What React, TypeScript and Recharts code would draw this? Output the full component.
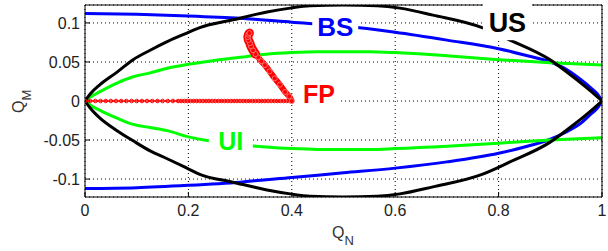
import { LineChart, Line, XAxis, YAxis, CartesianGrid, ReferenceDot } from "recharts";

// US curve (black)
const usX = [0, 0.01, 0.029, 0.062, 0.093, 0.126, 0.159, 0.197, 0.222, 0.286, 0.352, 0.397, 0.435, 0.5, 0.565, 0.609, 0.673, 0.768, 0.822, 0.899, 0.944, 0.983, 1];
const usUpper = [0, 0.009, 0.021, 0.037, 0.053, 0.065, 0.076, 0.087, 0.094, 0.104, 0.114, 0.119, 0.122, 0.123, 0.122, 0.119, 0.11, 0.094, 0.078, 0.053, 0.031, 0.01, 0];
const usLower = [0, -0.009, -0.022, -0.038, -0.051, -0.064, -0.074, -0.086, -0.094, -0.104, -0.114, -0.119, -0.122, -0.123, -0.122, -0.119, -0.11, -0.094, -0.078, -0.053, -0.031, -0.01, 0];

// BS curve (blue)
const bsX = [0, 0.1, 0.2, 0.3, 0.4, 0.5, 0.6, 0.7, 0.8, 0.85, 0.9, 0.93, 0.96, 0.98, 0.99, 1];
const bsUpper = [0.112, 0.111, 0.109, 0.106, 0.101, 0.096, 0.088, 0.078, 0.067, 0.059, 0.05, 0.041, 0.027, 0.016, 0.01, 0];
const bsLower = [-0.112, -0.111, -0.108, -0.104, -0.098, -0.092, -0.086, -0.078, -0.067, -0.059, -0.049, -0.04, -0.028, -0.016, -0.01, 0];

// UI curve (green)
const uiX = [0, 0.01, 0.029, 0.062, 0.093, 0.126, 0.159, 0.2, 0.25, 0.3, 0.35, 0.4, 0.45, 0.5, 0.55, 0.6, 0.7, 0.8, 0.9, 1];
const uiUpper = [0, 0.005, 0.012, 0.023, 0.031, 0.036, 0.042, 0.047, 0.052, 0.056, 0.06, 0.062, 0.063, 0.063, 0.063, 0.062, 0.058, 0.053, 0.049, 0.046];
const uiLower = [0, -0.005, -0.012, -0.022, -0.03, -0.034, -0.038, -0.046, -0.052, -0.056, -0.059, -0.061, -0.062, -0.062, -0.062, -0.061, -0.058, -0.054, -0.05, -0.047];

// FP path (red): markers along Q_M = 0, then the bend upwards
const fpLineX = [0, 0.01, 0.02, 0.03, 0.04, 0.05, 0.06, 0.07, 0.08, 0.09, 0.1, 0.11, 0.12, 0.13, 0.14, 0.15, 0.16, 0.17, 0.18, 0.186, 0.192, 0.198, 0.204, 0.21, 0.216, 0.222, 0.228, 0.234, 0.24, 0.246, 0.252, 0.258, 0.264, 0.27, 0.276, 0.282, 0.288, 0.294, 0.3, 0.306, 0.312, 0.318, 0.324, 0.33, 0.336, 0.342, 0.348, 0.354, 0.36, 0.366, 0.372, 0.378, 0.384, 0.39, 0.396, 0.4];
const fpLineY = fpLineX.map(() => 0);
const fpCurveX = [0.4, 0.395, 0.387, 0.377, 0.367, 0.357, 0.348, 0.341, 0.335, 0.33, 0.325, 0.321, 0.319, 0.316, 0.315, 0.316, 0.318];
const fpCurveY = [0, 0.006, 0.0115, 0.021, 0.029, 0.038, 0.046, 0.051, 0.056, 0.06, 0.065, 0.07, 0.074, 0.078, 0.082, 0.085, 0.087];

const xTicks = [0, 0.2, 0.4, 0.6, 0.8, 1];
const yTicks = [-0.1, -0.05, 0, 0.05, 0.1];

const pts = (xs: number[], ys: number[]) => xs.map((x, i) => ({ x, y: ys[i] }));

const font = "'Liberation Sans', Arial, sans-serif";
const tickStyle = { fill: "#222", fontSize: 16, fontFamily: font };

const tag =
  (text: string, color: string, size: number, w: number, h: number, dy = 0) =>
  (p: any) => (
    <g>
      <rect x={p.cx - w / 2} y={p.cy - h / 2 + dy} width={w} height={h} fill="#fff" />
      <text
        x={p.cx}
        y={p.cy + size * 0.358}
        textAnchor="middle"
        fontSize={size}
        fontWeight="bold"
        fontFamily={font}
        fill={color}
      >
        {text}
      </text>
    </g>
  );

const XTitle = (props: any) => {
  const vb = props.viewBox;
  return (
    <text x={vb.x + vb.width / 2 - 11.5} y={vb.y + 41} fontSize={16} fontFamily={font} fill="#333">
      Q
      <tspan fontSize={13} dy={7}>
        N
      </tspan>
    </text>
  );
};

const YTitle = (props: any) => {
  const vb = props.viewBox;
  const cx = vb.x + 24;
  const cy = vb.y + vb.height / 2 + 12;
  return (
    <text x={cx} y={cy} transform={`rotate(-90 ${cx} ${cy})`} fontSize={16} fontFamily={font} fill="#333">
      Q
      <tspan fontSize={13} dy={7}>
        M
      </tspan>
    </text>
  );
};

export default function App() {
  return (
    <div style={{ position: "absolute", left: 0, top: 0, background: "#fff" }}>
      <LineChart width={608} height={251} margin={{ top: 4, right: 5, bottom: 0, left: 0 }}>
        <CartesianGrid stroke="#000" strokeDasharray="1 3" />
        <XAxis
          type="number"
          dataKey="x"
          domain={[0, 1]}
          ticks={xTicks}
          allowDataOverflow
          height={54}
          stroke="#000"
          tickSize={-5}
          tickMargin={13}
          tick={tickStyle}
          tickFormatter={(v) => String(v)}
          label={{ content: <XTitle /> }}
        />
        <XAxis
          xAxisId="top"
          orientation="top"
          type="number"
          domain={[0, 1]}
          ticks={xTicks}
          height={1}
          stroke="#000"
          tickSize={-5}
          tick={false}
        />
        <YAxis
          type="number"
          domain={[-0.123, 0.123]}
          ticks={yTicks}
          allowDataOverflow
          width={85}
          stroke="#000"
          tickSize={-5}
          tickMargin={10}
          tick={tickStyle}
          tickFormatter={(v) => String(v)}
          label={{ content: <YTitle /> }}
        />
        <YAxis
          yAxisId="right"
          orientation="right"
          type="number"
          domain={[-0.123, 0.123]}
          ticks={yTicks}
          width={1}
          stroke="#000"
          tickSize={-5}
          tick={false}
        />

        <Line data={pts(bsX, bsUpper)} dataKey="y" type="monotone" stroke="#0000ff" strokeWidth={3} dot={false} isAnimationActive={false} />
        <Line data={pts(bsX, bsLower)} dataKey="y" type="monotone" stroke="#0000ff" strokeWidth={3} dot={false} isAnimationActive={false} />
        <Line data={pts(uiX, uiUpper)} dataKey="y" type="monotone" stroke="#00ff00" strokeWidth={3} dot={false} isAnimationActive={false} />
        <Line data={pts(uiX, uiLower)} dataKey="y" type="monotone" stroke="#00ff00" strokeWidth={3} dot={false} isAnimationActive={false} />
        <Line data={pts(usX, usUpper)} dataKey="y" type="monotone" stroke="#000" strokeWidth={3} dot={false} isAnimationActive={false} />
        <Line data={pts(usX, usLower)} dataKey="y" type="monotone" stroke="#000" strokeWidth={3} dot={false} isAnimationActive={false} />
        <Line
          data={pts(fpLineX, fpLineY)}
          dataKey="y"
          type="linear"
          stroke="#ff0000"
          strokeWidth={1.5}
          dot={{ r: 1.8, stroke: "#ff0000", strokeWidth: 1, fill: "none" }}
          isAnimationActive={false}
        />
        <Line
          data={pts(fpCurveX, fpCurveY)}
          dataKey="y"
          type="linear"
          stroke="#ff0000"
          strokeWidth={6}
          strokeLinejoin="round"
          dot={{ r: 2.5, stroke: "#ff7070", strokeWidth: 1, fill: "#ff0000" }}
          isAnimationActive={false}
        />
        <Line
          data={pts(fpCurveX.slice(9), fpCurveY.slice(9))}
          dataKey="y"
          type="linear"
          stroke="#ff0000"
          strokeWidth={9}
          strokeLinecap="round"
          strokeLinejoin="round"
          dot={false}
          isAnimationActive={false}
        />

        <ReferenceDot x={0.484} y={0.0955} r={0} shape={tag("BS", "#0000ff", 26, 46, 30)} zIndex={2000} />
        <ReferenceDot x={0.817} y={0.101} r={0} shape={tag("US", "#000", 27, 49, 40, -2)} zIndex={2000} />
        <ReferenceDot x={0.4526} y={0.009} r={0} shape={tag("FP", "#ff0000", 25, 44, 30)} zIndex={2000} />
        <ReferenceDot x={0.282} y={-0.0515} r={0} shape={tag("UI", "#00ff00", 25, 44, 32)} zIndex={2000} />
      </LineChart>
    </div>
  );
}
